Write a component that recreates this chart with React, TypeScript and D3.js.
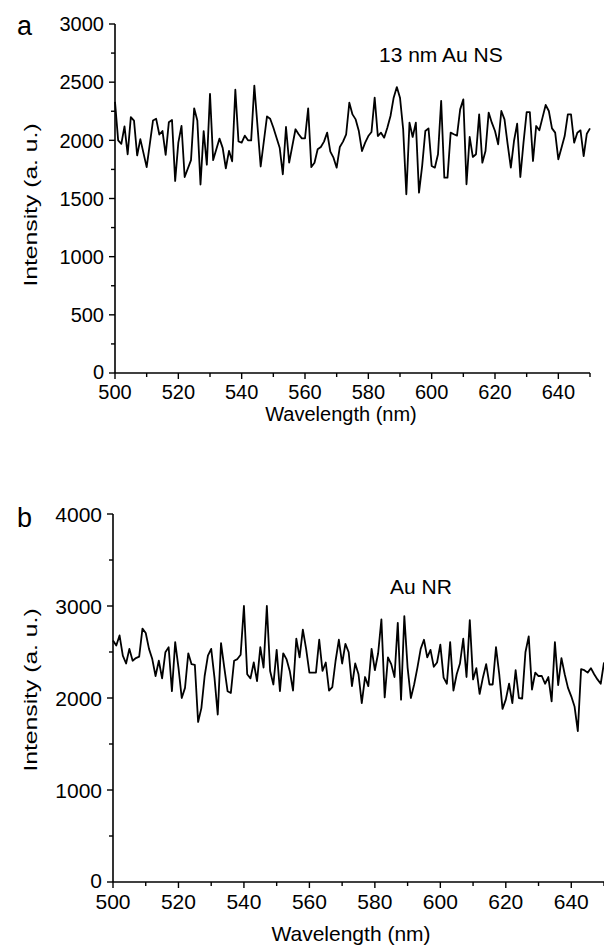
import React from 'react';
import * as d3 from 'd3';

// panel a: 13 nm Au NS
const aWavelength = [
  500, 501, 502, 503, 504, 505, 506, 507, 508, 510, 512, 513, 514, 515, 516, 517, 518, 519, 520, 521,
  522, 524, 525, 526, 527, 528, 529, 530, 531, 533, 534, 535, 536, 537, 538, 539, 540, 541, 542, 543,
  544, 546, 548, 549, 550, 552, 553, 554, 555, 557, 558, 559, 560, 561, 562, 563, 564, 565, 566, 567,
  568, 569, 570, 571, 572, 573, 574, 575, 576, 577, 578, 579, 580, 581, 582, 583, 584, 585, 586, 587,
  588, 589, 590, 591, 592, 593, 594, 595, 596, 597, 598, 599, 600, 601, 602, 603, 604, 605, 606, 607,
  608, 609, 610, 611, 612, 613, 614, 615, 616, 617, 618, 619, 620, 621, 622, 623, 624, 625, 626, 627,
  628, 629, 630, 631, 632, 633, 634, 635, 636, 637, 638, 639, 640, 641, 642, 643, 644, 645, 646, 647,
  648, 649, 650,
];
const aIntensity = [
  2330, 2000, 1970, 2120, 1880, 2200, 2170, 1870, 2010, 1770, 2170, 2185, 2050, 2080, 1875, 2155, 2175, 1650, 1980, 2125,
  1685, 1830, 2275, 2170, 1620, 2080, 1790, 2400, 1830, 2015, 1935, 1760, 1910, 1820, 2435, 1990, 1980, 2040, 2000, 2000,
  2470, 1775, 2205, 2185, 2110, 1937, 1708, 2115, 1808, 2095, 2052, 2017, 2017, 2275, 1770, 1808, 1923, 1943, 1989, 2066,
  1903, 1851, 1765, 1943, 1989, 2052, 2324, 2223, 2180, 2080, 1908, 1980, 2037, 2072, 2367, 2037, 2066, 2023, 2109, 2209,
  2367, 2458, 2367, 2095, 1536, 2152, 2029, 2152, 1550, 1780, 2080, 2103, 1780, 1765, 1880, 2340, 1679, 1679, 2066, 2052,
  2040, 2266, 2352, 1622, 2029, 1857, 1880, 2223, 1808, 1908, 2238, 2152, 2080, 1966, 2252, 2180, 1966, 1765, 1994, 2143,
  1685, 1980, 2243, 2243, 1822, 2123, 2086, 2195, 2304, 2252, 2103, 2066, 1837, 1937, 2037, 2223, 2223, 1980, 2066, 2086,
  1865, 2057, 2103,
];

// panel b: Au NR
const bWavelength = [
  500, 501, 502, 503, 504, 505, 506, 507, 508, 509, 510, 511, 512, 513, 514, 515, 516, 517, 518, 519,
  520, 521, 522, 523, 524, 525, 526, 527, 528, 529, 530, 531, 532, 533, 534, 535, 536, 537, 538, 539,
  540, 541, 542, 543, 544, 545, 546, 547, 548, 549, 550, 551, 552, 553, 554, 555, 556, 557, 558, 559,
  560, 561, 562, 563, 564, 565, 566, 567, 568, 569, 570, 571, 572, 573, 574, 575, 576, 577, 578, 579,
  580, 581, 582, 583, 584, 585, 586, 587, 588, 589, 590, 591, 592, 593, 594, 595, 596, 597, 598, 599,
  600, 601, 602, 603, 604, 605, 606, 607, 608, 609, 610, 611, 612, 613, 614, 615, 616, 617, 618, 619,
  620, 621, 622, 623, 624, 625, 626, 627, 628, 629, 630, 631, 632, 633, 634, 635, 636, 637, 638, 639,
  640, 641, 642, 643, 644, 645, 646, 647, 648, 649, 650,
];
const bIntensity = [
  2626, 2570, 2680, 2460, 2375, 2534, 2405, 2434, 2449, 2754, 2707, 2534, 2423, 2239, 2405, 2213, 2497, 2552, 2074, 2607,
  2331, 2000, 2110, 2486, 2368, 2361, 1740, 1890, 2239, 2460, 2534, 2221, 1820, 2596, 2331, 2074, 2055, 2405, 2423, 2471,
  3000, 2258, 2213, 2386, 2184, 2552, 2331, 3000, 2294, 2147, 2523, 2074, 2486, 2423, 2294, 2081, 2644, 2442, 2743, 2534,
  2276, 2276, 2276, 2633, 2294, 2386, 2081, 2118, 2405, 2633, 2375, 2589, 2497, 2129, 2375, 2258, 1945, 2228, 2129, 2534,
  2302, 2486, 2854, 2007, 2442, 2368, 2228, 2817, 1982, 2890, 2331, 2000, 2147, 2331, 2534, 2633, 2442, 2523, 2339, 2386,
  2581, 2221, 2155, 2607, 2081, 2258, 2375, 2644, 2228, 2846, 2202, 2324, 2044, 2221, 2368, 2147, 2147, 2552, 2258, 1882,
  1982, 2155, 1945, 2302, 2000, 1993, 2497, 2670, 2092, 2276, 2239, 2239, 2155, 2228, 1963, 2607, 2140, 2434, 2258, 2110,
  2018, 1908, 1640, 2313, 2302, 2276, 2324, 2258, 2202, 2155, 2386,
];

const xMajor = [500, 520, 540, 560, 580, 600, 620, 640];
const xMinor = [510, 530, 550, 570, 590, 610, 630, 650];
const aYMajor = [0, 500, 1000, 1500, 2000, 2500, 3000];
const aYMinor = [250, 750, 1250, 1750, 2250, 2750];
const bYMajor = [0, 1000, 2000, 3000, 4000];
const bYMinor = [500, 1500, 2500, 3500];

const width = 604;
const height = 951;
const font = "Arial, 'Liberation Sans', sans-serif";

type PanelProps = {
  letter: string;
  note: string;
  noteX: number;
  noteY: number;
  xs: number[];
  ys: number[];
  x0: number;
  x1: number;
  yTop: number;
  yBottom: number;
  yMax: number;
  yMajor: number[];
  yMinor: number[];
  letterY: number;
  fs: number;
  titleX: number;
  titleY: number;
  tickDy: number;
  titleDy: number;
};

const Panel = (p: PanelProps) => {
  const x = d3.scaleLinear().domain([500, 650]).range([p.x0, p.x1]);
  const y = d3.scaleLinear().domain([0, p.yMax]).range([p.yBottom, p.yTop]);
  const line = d3.line<number>().x((d, i) => x(p.xs[i])).y(d => y(d));
  return (
    <g fontFamily={font} fill="#000">
      <text x={17} y={p.letterY} fontSize={27}>{p.letter}</text>
      {/* axes */}
      <line x1={p.x0} x2={p.x0} y1={p.yTop} y2={p.yBottom} stroke="#000" strokeWidth={1.6} />
      <line x1={p.x0} x2={p.x1} y1={p.yBottom} y2={p.yBottom} stroke="#000" strokeWidth={1.6} />
      {p.yMajor.map(v => (
        <g key={'ym' + v}>
          <line x1={p.x0 - 6} x2={p.x0} y1={y(v)} y2={y(v)} stroke="#000" strokeWidth={1.4} />
          <text x={p.x0 - 11} y={y(v)} dy={v === 0 ? '0.3em' : '0.36em'} textAnchor="end" fontSize={p.fs}>{v}</text>
        </g>
      ))}
      {p.yMinor.map(v => (
        <line key={'yn' + v} x1={p.x0 - 4} x2={p.x0} y1={y(v)} y2={y(v)} stroke="#000" strokeWidth={1.4} />
      ))}
      {xMajor.map(v => (
        <g key={'xm' + v}>
          <line x1={x(v)} x2={x(v)} y1={p.yBottom} y2={p.yBottom + 6} stroke="#000" strokeWidth={1.4} />
          <text x={x(v)} y={p.yBottom + p.tickDy} textAnchor="middle" fontSize={p.fs}>{v}</text>
        </g>
      ))}
      {xMinor.map(v => (
        <line key={'xn' + v} x1={x(v)} x2={x(v)} y1={p.yBottom} y2={p.yBottom + 4} stroke="#000" strokeWidth={1.4} />
      ))}
      <text x={p.titleX} y={p.yBottom + p.titleDy} textAnchor="middle" fontSize={p.fs}>Wavelength (nm)</text>
      <text transform={`translate(37, ${p.titleY}) rotate(-90) scale(1.3, 1)`} textAnchor="middle" fontSize={19}>Intensity (a. u.)</text>
      <text x={p.noteX} y={p.noteY} fontSize={21}>{p.note}</text>
      <path d={line(p.ys) || ''} fill="none" stroke="#000" strokeWidth={1.8} strokeLinejoin="round" />
    </g>
  );
};

const App = () => {
  return (
    <svg width={width} height={height} style={{ position: 'absolute', left: 0, top: 0, background: '#fff' }}>
      <rect width={width} height={height} fill="#fff" />
      <Panel letter="a" note="13 nm Au NS" noteX={379} noteY={62} xs={aWavelength} ys={aIntensity}
        x0={115} x1={590} yTop={24} yBottom={373} yMax={3000} yMajor={aYMajor} yMinor={aYMinor} letterY={35}
        fs={20} titleX={341} titleY={205} tickDy={26} titleDy={48} />
      <Panel letter="b" note="Au NR" noteX={390} noteY={594} xs={bWavelength} ys={bIntensity}
        x0={113} x1={604} yTop={514} yBottom={882} yMax={4000} yMajor={bYMajor} yMinor={bYMinor} letterY={527}
        fs={21} titleX={351} titleY={690} tickDy={27} titleDy={59} />
    </svg>
  );
};

export default App;
